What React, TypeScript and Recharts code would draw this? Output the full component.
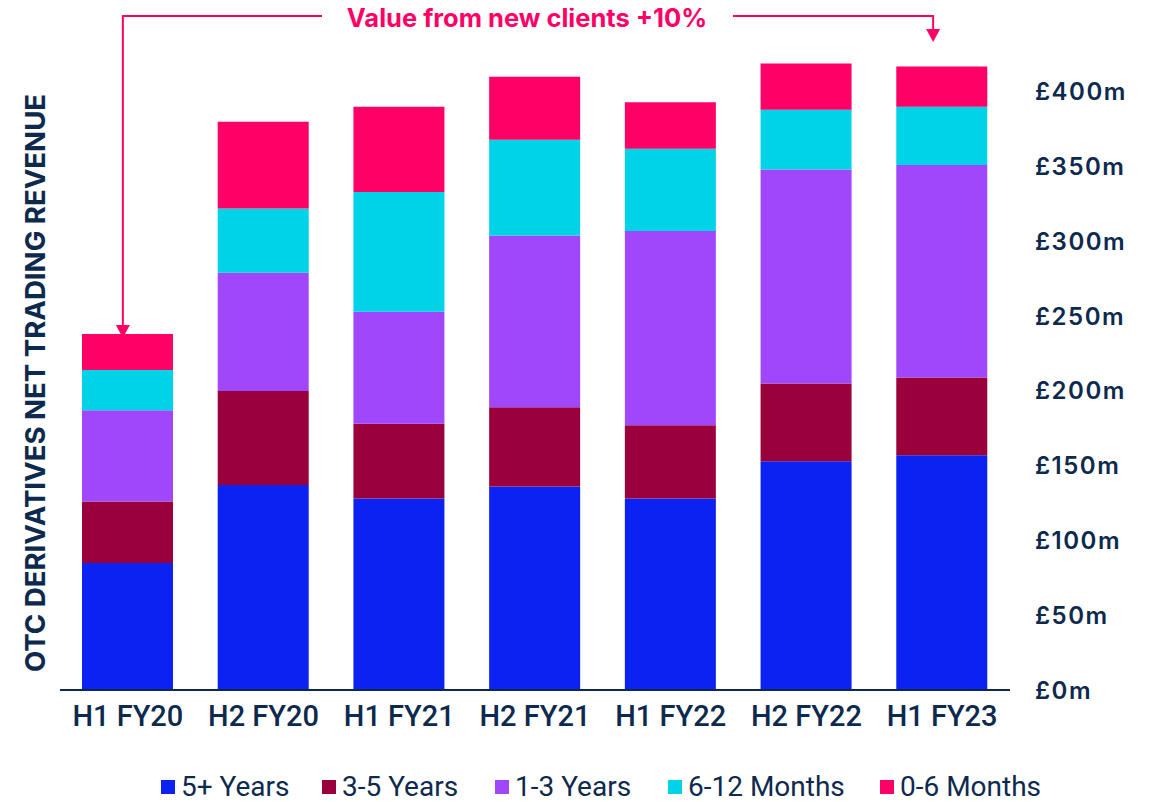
import React from 'react';
import { BarChart, Bar, XAxis, YAxis } from 'recharts';

const categories = ['H1 FY20', 'H2 FY20', 'H1 FY21', 'H2 FY21', 'H1 FY22', 'H2 FY22', 'H1 FY23'];
const fivePlusYears = [85, 137, 128, 136, 128, 153, 157];
const threeToFiveYears = [41, 63, 50, 53, 49, 52, 52];
const oneToThreeYears = [61, 79, 75, 115, 130, 143, 142];
const sixToTwelveMonths = [27, 43, 80, 64, 55, 40, 39];
const zeroToSixMonths = [24, 58, 57, 42, 31, 31, 27];
const yTicks = [0, 50, 100, 150, 200, 250, 300, 350, 400];
const annotationText = 'Value from new clients +10%';

const seriesDefs = [
  { key: 'fivePlus', name: '5+ Years', color: '#0c22f2', values: fivePlusYears },
  { key: 'threeFive', name: '3-5 Years', color: '#99003c', values: threeToFiveYears },
  { key: 'oneThree', name: '1-3 Years', color: '#a047fb', values: oneToThreeYears },
  { key: 'sixTwelve', name: '6-12 Months', color: '#00d2e8', values: sixToTwelveMonths },
  { key: 'zeroSix', name: '0-6 Months', color: '#ff0066', values: zeroToSixMonths },
];
const legendItemWidths = [161, 173, 173, 212, undefined];

const data = categories.map((c, i) => {
  const row: any = { category: c };
  seriesDefs.forEach((s) => (row[s.key] = s.values[i]));
  return row;
});

const NAVY = '#0d2a4e';
const PINK = '#ff0066';
const W = 1141;
const H = 786;
const WRAP_H = 794;
const M = { top: 24, right: 0, left: 52, bottom: 54 };
const Y_AXIS_W = 139;
const X_AXIS_H = 50;
const Y_MAX = 440;
const plotLeft = M.left;
const plotRight = W - M.right - Y_AXIS_W;
const plotTop = M.top;
const plotBottom = H - M.bottom - X_AXIS_H;
const band = (plotRight - plotLeft) / categories.length;
const xCenter = (i: number) => plotLeft + band * (i + 0.5);
const yPos = (v: number) => plotBottom - (v / Y_MAX) * (plotBottom - plotTop);

const totals = categories.map((_, i) => seriesDefs.reduce((a, s) => a + s.values[i], 0));

const Annotation = () => {
  const lineY = 8;
  const leftX = xCenter(0) - 5;
  const rightX = xCenter(categories.length - 1) - 9;
  const leftTip = yPos(totals[0]) + 4;
  const rightTip = 34;
  const ah = 13;
  const aw = 7;
  return (
    <svg width={W} height={H} style={{ position: 'absolute', left: 0, top: 0, pointerEvents: 'none', overflow: 'visible' }}>
      <polyline points={`${leftX},${leftTip - ah} ${leftX},${lineY} 314,${lineY}`} fill="none" stroke={PINK} strokeWidth={2} />
      <polygon points={`${leftX - aw},${leftTip - ah} ${leftX + aw},${leftTip - ah} ${leftX},${leftTip}`} fill={PINK} />
      <polyline points={`725,${lineY} ${rightX},${lineY} ${rightX},${rightTip - ah}`} fill="none" stroke={PINK} strokeWidth={2} />
      <polygon points={`${rightX - aw},${rightTip - ah} ${rightX + aw},${rightTip - ah} ${rightX},${rightTip}`} fill={PINK} />
      <text x={519} y={19} textAnchor="middle" fill={PINK} fontFamily="Inter" fontWeight={700} fontSize={25.5}>
        {annotationText}
      </text>
      <text
        x={29}
        y={375}
        transform="rotate(-90 29 375)"
        textAnchor="middle"
        dominantBaseline="middle"
        fill={NAVY}
        fontFamily="Inter"
        fontWeight={700}
        fontSize={27.6}
      >
        OTC DERIVATIVES NET TRADING REVENUE
      </text>
    </svg>
  );
};

const LegendBox = () => (
  <div
    style={{
      position: 'absolute',
      left: 153,
      top: 764,
      height: 30,
      display: 'flex',
      alignItems: 'center',
      fontFamily: 'Roboto',
      fontSize: 28,
      lineHeight: '30px',
      color: NAVY,
      whiteSpace: 'nowrap',
    }}
  >
    {seriesDefs.map((s, i) => (
      <div key={s.key} style={{ display: 'flex', alignItems: 'center', width: legendItemWidths[i] }}>
        <span style={{ display: 'inline-block', width: 14, height: 14, background: s.color, marginRight: 6 }} />
        <span>{s.name}</span>
      </div>
    ))}
  </div>
);

export default function App() {
  return (
    <div style={{ position: 'relative', width: W, height: WRAP_H }}>
      <BarChart width={W} height={H} data={data} margin={M}>
        <XAxis
          dataKey="category"
          height={X_AXIS_H}
          tickLine={false}
          tickSize={0}
          tickMargin={15}
          axisLine={{ stroke: NAVY, strokeWidth: 2 }}
          tick={{ fill: NAVY, fontFamily: 'Roboto', fontWeight: 500, fontSize: 29 }}
          interval={0}
        />
        <YAxis
          orientation="right"
          width={Y_AXIS_W}
          domain={[0, Y_MAX]}
          ticks={yTicks}
          tickLine={false}
          axisLine={false}
          tickSize={0}
          tickMargin={25}
          tickFormatter={(v: number) => `£${v}m`}
          tick={{ fill: NAVY, fontFamily: 'Inter', fontWeight: 600, fontSize: 24, letterSpacing: 1.5, textAnchor: 'start' }}
        />
        {seriesDefs.map((s) => (
          <Bar key={s.key} dataKey={s.key} name={s.name} stackId="a" fill={s.color} barSize={91} isAnimationActive={false} />
        ))}
      </BarChart>
      <Annotation />
      <LegendBox />
    </div>
  );
}
